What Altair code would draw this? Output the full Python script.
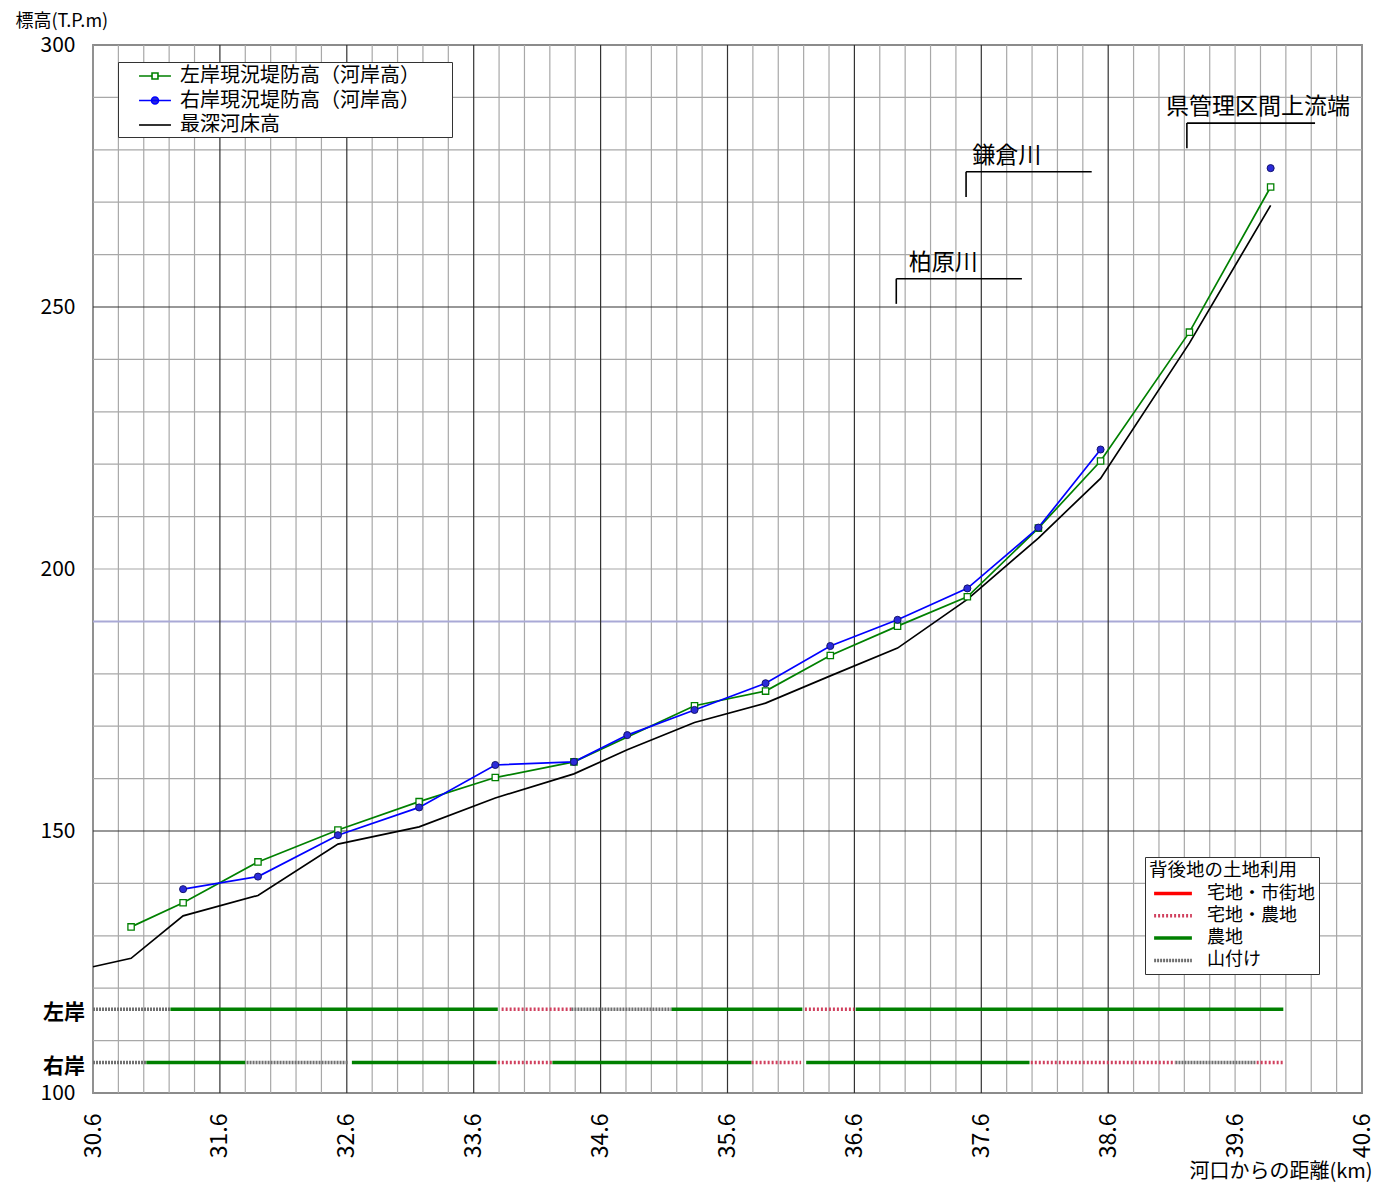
import altair as alt
import pandas as pd

JP = "Noto Sans CJK JP"
NUM = "Noto Sans CJK JP"

# ---------------- data ----------------
left_name = "左岸現況堤防高（河岸高）"
right_name = "右岸現況堤防高（河岸高）"
bed_name = "最深河床高"
series_names = [left_name, right_name, bed_name]
series_colors = ["#008000", "#0000ff", "#000000"]

left_km = [30.90, 31.31, 31.90, 32.53, 33.17, 33.77, 34.39, 35.34, 35.90, 36.41,
           36.94, 37.49, 38.05, 38.54, 39.24, 39.88]
left_elev = [131.7, 136.3, 144.1, 150.2, 155.6, 160.2, 163.2, 173.9, 176.7, 183.5,
             189.1, 194.7, 207.8, 220.6, 245.2, 272.9]

right_km = [31.31, 31.90, 32.53, 33.17, 33.77, 34.39, 34.81, 35.34, 35.90, 36.41,
            36.94, 37.49, 38.05, 38.54, 39.24, 39.88]
right_elev = [138.9, 141.3, 149.2, 154.5, 162.6, 163.2, 168.3, 173.1, 178.2, 185.3,
              190.3, 196.3, 207.9, 222.8, None, 276.5]

bed_km = [30.60, 30.90, 31.31, 31.90, 32.53, 33.17, 33.77, 34.39, 34.81, 35.34,
          35.90, 36.41, 36.94, 37.49, 38.05, 38.54, 39.24, 39.88]
bed_elev = [124.1, 125.7, 133.8, 137.7, 147.5, 150.8, 156.3, 160.9, 165.5, 170.7,
            174.4, 179.6, 184.9, 194.2, 205.9, 217.3, 243.1, 269.4]

# land use behind the levees
use_domain = ["宅地・市街地", "宅地・農地", "農地", "山付け"]
use_colors = ["#ff0000", "#d0405e", "#008000", "#707070"]
use_dashes = [[1, 0], [2, 2], [1, 0], [2, 1]]

bank_names = ["左岸", "右岸"]
bank_levels = [116.0, 105.8]

left_use_start = [30.60, 31.21, 33.82, 34.37, 35.16, 36.21, 36.61]
left_use_end = [31.21, 33.79, 34.37, 35.16, 36.19, 36.60, 39.98]
left_use = ["山付け", "農地", "宅地・農地", "山付け", "農地", "宅地・農地", "農地"]

right_use_start = [30.60, 31.02, 31.81, 32.64, 33.79, 34.22, 35.79, 36.22, 37.99, 39.13, 39.77]
right_use_end = [31.02, 31.80, 32.61, 33.78, 34.22, 35.79, 36.18, 37.98, 39.13, 39.76, 39.99]
right_use = ["山付け", "農地", "山付け", "農地", "宅地・農地", "農地", "宅地・農地", "農地",
             "宅地・農地", "山付け", "宅地・農地"]

# annotations (tributaries / upstream end)
ann_names = ["柏原川", "鎌倉川", "県管理区間上流端"]
ann_km = [36.93, 37.48, 39.22]
ann_base = [250.6, 271.0, 280.3]
ann_top = [255.4, 275.8, 285.1]
ann_end = [37.92, 38.47, 40.23]
ann_text_km = [37.30, 37.80, 39.78]

# ticks and grid
x_ticks = [round(30.6 + 0.2 * i, 1) for i in range(51)]
x_label_ticks = [round(30.6 + i, 1) for i in range(11)]
x_major_grid = [31.6, 32.6, 33.6, 34.6, 35.6, 36.6, 37.6, 38.6]
y_ticks = list(range(100, 301, 10))
y_label_ticks = [100, 150, 200, 250, 300]
y_major_grid = [150, 250]
y_ref_level = [190]

# ---------------- tables ----------------
rows = []
for name, kms, vals in [(left_name, left_km, left_elev),
                        (right_name, right_km, right_elev),
                        (bed_name, bed_km, bed_elev)]:
    seg = 0
    for k, v in zip(kms, vals):
        if v is None:
            seg += 1
            continue
        rows.append({"km": k, "elev": v, "series": name, "seg": f"{name}-{seg}"})
lines_df = pd.DataFrame(rows)
left_df = lines_df[lines_df.series == left_name]
right_df = lines_df[lines_df.series == right_name]

band_rows = []
for s, e, u in zip(left_use_start, left_use_end, left_use):
    band_rows.append({"km": s, "km_end": e, "elev": bank_levels[0], "use": u})
for s, e, u in zip(right_use_start, right_use_end, right_use):
    band_rows.append({"km": s, "km_end": e, "elev": bank_levels[1], "use": u})
bands_df = pd.DataFrame(band_rows)

ann_df = pd.DataFrame({"name": ann_names, "km": ann_km, "base": ann_base,
                       "top": ann_top, "end": ann_end, "text_km": ann_text_km})
bank_df = pd.DataFrame({"bank": bank_names, "elev": bank_levels})

xg_minor = pd.DataFrame({"km": [v for v in x_ticks if v not in x_major_grid]})
xg_major = pd.DataFrame({"km": x_major_grid})
yg_minor = pd.DataFrame({"elev": [v for v in y_ticks if v not in y_major_grid + y_ref_level]})
yg_major = pd.DataFrame({"elev": y_major_grid})
yg_ref = pd.DataFrame({"elev": y_ref_level})

# ---------------- scales / axes ----------------
xs = alt.Scale(domain=[30.6, 40.6], nice=False, zero=False)
ys = alt.Scale(domain=[100, 300], nice=False, zero=False)

x_axis = alt.Axis(
    values=x_label_ticks, title="河口からの距離(km)", format=".1f",
    labelAngle=270, labelAlign="right", labelBaseline="middle", labelPadding=20,
    labelFont=NUM, labelFontSize=23, labelColor="black",
    labelFlush=False, labelOverlap=False,
    ticks=False, domain=False, grid=False,
    titleFont=JP, titleFontSize=20, titleFontWeight="normal", titleColor="black",
    titleX=1279, titleY=78, titleAlign="right", titleBaseline="middle", titleAngle=0,
)
y_axis = alt.Axis(
    values=y_label_ticks, title="標高(T.P.m)",
    labelFont=NUM, labelFontSize=21, labelPadding=18, labelColor="black",
    labelFlush=False, labelOverlap=False,
    ticks=False, domain=False, grid=False,
    titleFont=JP, titleFontSize=18, titleFontWeight="normal", titleColor="black",
    titleAngle=0, titleAlign="left", titleBaseline="middle", titleX=-78, titleY=-24,
)

# legend symbols: custom paths (line with marker), drawn wider than the layout size
sq_path = "M-1.45,0H-0.27M0.27,0H1.45M-0.27,-0.27H0.27V0.27H-0.27Z"
ci_path = "M-1.45,0H1.45M0.32,0A0.32,0.32,0,1,1,-0.32,0A0.32,0.32,0,1,1,0.32,0Z"
ln_path = "M-1.45,0H1.45"
sym_shape_expr = (f"datum.value === '{left_name}' ? '{sq_path}' : "
                  f"(datum.value === '{right_name}' ? '{ci_path}' : '{ln_path}')")
sym_fill_expr = (f"datum.value === '{left_name}' ? 'white' : "
                 f"(datum.value === '{right_name}' ? '#2b2bd9' : 'transparent')")

series_legend = alt.Legend(
    title=None, orient="none", legendX=25, legendY=17,
    labelFont=JP, labelFontSize=20, labelColor="black", labelLimit=500, labelOffset=13,
    labelExpr="datum.label + '\u2800\u2800'",
    symbolType={"expr": sym_shape_expr}, symbolFillColor={"expr": sym_fill_expr},
    symbolSize=484, symbolStrokeWidth=1.6, symbolOffset=23,
    padding=2, rowPadding=2.5, fillColor="white", strokeColor="#333333",
)

lu_legend = alt.Legend(
    title="背後地の土地利用", orient="none", legendX=1052, legendY=812,
    titleFont=JP, titleFontSize=18.5, titleFontWeight="normal", titleColor="black",
    titlePadding=3, labelFont=JP, labelFontSize=18, labelColor="black", labelLimit=300,
    labelOffset=23, symbolType="M-2.1,0H2.1", symbolSize=324, symbolStrokeWidth=3.5,
    symbolOffset=13, padding=4, rowPadding=2.3, fillColor="white", strokeColor="#333333",
)

X = lambda f: alt.X(f, scale=xs, axis=x_axis)
Y = lambda f: alt.Y(f, scale=ys, axis=y_axis)

# ---------------- layers ----------------
grid_xm = alt.Chart(xg_minor).mark_rule(color="#a8a8a8", strokeWidth=1.2).encode(x=X("km:Q"))
grid_xM = alt.Chart(xg_major).mark_rule(color="#333333", strokeWidth=1.2).encode(x=X("km:Q"))
grid_ym = alt.Chart(yg_minor).mark_rule(color="#a8a8a8", strokeWidth=1.2).encode(y=Y("elev:Q"))
grid_yM = alt.Chart(yg_major).mark_rule(color="#333333", strokeWidth=1.2).encode(y=Y("elev:Q"))
grid_yr = alt.Chart(yg_ref).mark_rule(color="#a9a9d6", strokeWidth=2).encode(y=Y("elev:Q"))

bands = alt.Chart(bands_df).mark_rule(strokeWidth=3.5, strokeCap="butt").encode(
    x=X("km:Q"), x2="km_end:Q", y=Y("elev:Q"),
    color=alt.Color("use:N", scale=alt.Scale(domain=use_domain, range=use_colors), legend=lu_legend),
    strokeDash=alt.StrokeDash("use:N", scale=alt.Scale(domain=use_domain, range=use_dashes), legend=lu_legend),
)

lines = alt.Chart(lines_df).mark_line(strokeWidth=1.7).encode(
    x=X("km:Q"), y=Y("elev:Q"),
    color=alt.Color("series:N", scale=alt.Scale(domain=series_names, range=series_colors),
                    legend=series_legend),
    detail="seg:N",
)

pts_left = alt.Chart(left_df).mark_point(
    shape="square", size=40, filled=True, fill="white", stroke="#008000", strokeWidth=1.3, opacity=1
).encode(x=X("km:Q"), y=Y("elev:Q"))

pts_right = alt.Chart(right_df).mark_point(
    shape="circle", size=50, filled=True, fill="#2b2bd9", stroke="#14146e", strokeWidth=1, opacity=1
).encode(x=X("km:Q"), y=Y("elev:Q"))

ann_v = alt.Chart(ann_df).mark_rule(color="black", strokeWidth=1.6).encode(
    x=X("km:Q"), y=Y("base:Q"), y2="top:Q")
ann_h = alt.Chart(ann_df).mark_rule(color="black", strokeWidth=1.6).encode(
    x=X("km:Q"), x2="end:Q", y=Y("top:Q"))
ann_t = alt.Chart(ann_df).mark_text(font=JP, fontSize=23, baseline="middle", align="center",
                                     dy=-16, color="black").encode(
    x=X("text_km:Q"), y=Y("top:Q"), text="name:N")

bank_t = alt.Chart(bank_df).mark_text(font=JP, fontSize=21, fontWeight="bold", align="right",
                                      baseline="middle", dy=4, color="black").encode(
    x=alt.value(-8), y=Y("elev:Q"), text="bank:N")

chart = alt.layer(
    grid_xm, grid_ym, grid_yr, grid_xM, grid_yM,
    bands, lines, pts_left, pts_right, ann_v, ann_h, ann_t, bank_t
).resolve_scale(
    color="independent", strokeDash="independent"
).properties(
    width=1269, height=1048,
    autosize=alt.AutoSizeParams(type="none"),
    padding={"left": 85, "top": 37, "right": 15, "bottom": 91},
).configure(font=JP, background="white").configure_view(stroke="#404040", strokeWidth=1.5)

chart.save("out.html", embed_options={"renderer": "svg", "actions": False})
